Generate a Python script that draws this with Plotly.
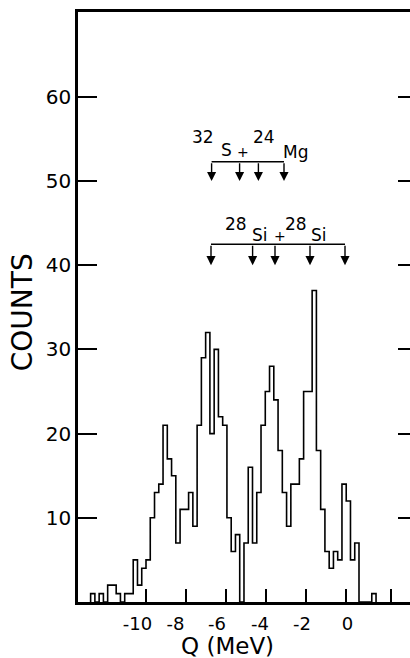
import plotly.graph_objects as go

# ---- data ----
BIN_START = -12.769      # MeV, left edge of first channel
BIN_WIDTH = 0.213        # MeV per channel
counts = [1, 0, 1, 0, 2, 2, 1, 0, 1, 1, 5, 2, 4,
          5, 10, 13, 14, 21, 17, 15, 7, 11, 11, 13, 9, 21, 29, 32, 20, 30,
          22, 21, 10, 6, 8, 0, 7, 16, 7, 13, 21, 25, 28, 24, 18, 13, 9, 14,
          14, 17, 25, 25, 37, 18, 11, 6, 4, 6, 5, 14, 12, 5, 7, 0, 0, 0, 1]

x_tick_marks = [-10, -8, -6, -4, -2, 0, 2.25]
x_tick_label_pos = [-10.43, -8.53, -6.45, -4.3, -2.2, 0.075]
x_tick_labels = ["-10", "-8", "-6", "-4", "-2", "0"]
y_ticks = [10, 20, 30, 40, 50, 60]

mg_arrows = [-6.72, -5.32, -4.38, -3.10]        # 32S + 24Mg
si_arrows = [-6.75, -4.67, -3.55, -1.80, -0.05]  # 28Si + 28Si
mg_bracket, mg_tip = 52.3, 50.0
si_bracket, si_tip = 42.5, 40.0

# ---- build step outline ----
edges = [BIN_START + i * BIN_WIDTH for i in range(len(counts) + 1)]
xs = [edges[0]] + edges
ys = [0] + counts + [0]

FONT = "DejaVu Sans"

fig = go.Figure()
fig.add_trace(go.Scatter(x=xs, y=ys, mode="lines", line_shape="hv",
                         line=dict(color="black", width=1.6),
                         showlegend=False, hoverinfo="skip"))
fig.add_trace(go.Scatter(x=[None], y=[None], yaxis="y2", mode="lines",
                         showlegend=False, hoverinfo="skip"))

annotations = []
shapes = []
for arrows, yb, yt in [(mg_arrows, mg_bracket, mg_tip), (si_arrows, si_bracket, si_tip)]:
    shapes.append(dict(type="line", xref="x", yref="y", x0=arrows[0], x1=arrows[-1],
                       y0=yb, y1=yb, line=dict(color="black", width=1.5)))
    for xv in arrows:
        annotations.append(dict(x=xv, y=yt, ax=xv, ay=yb, xref="x", yref="y",
                                axref="x", ayref="y", text="", showarrow=True,
                                arrowhead=2, arrowsize=1.3, arrowwidth=1.4,
                                arrowcolor="black", standoff=0))

def label(txt, x, y, size=17):
    annotations.append(dict(x=x, y=y, xref="x", yref="y", text=txt, showarrow=False,
                            font=dict(family=FONT, size=size, color="black"),
                            xanchor="center", yanchor="middle"))

# 32S + 24Mg
label("32", -7.15, 55.2)
label("S", -5.975, 53.7)
label("+", -5.175, 53.5, 14)
label("24", -4.125, 55.2)
label("Mg", -2.55, 53.4)
# 28Si + 28Si
label("28", -5.485, 44.9)
label("Si", -4.30, 43.6)
label("+", -3.325, 43.5, 14)
label("28", -2.485, 44.9)
label("Si", -1.365, 43.6)

annotations.append(dict(x=-5.93, y=-0.0746, xref="x", yref="paper", text="Q (MeV)",
                        showarrow=False, font=dict(family=FONT, size=23, color="black"),
                        xanchor="center", yanchor="middle"))
annotations.append(dict(x=-0.169, y=34.4, xref="paper", yref="y", text="COUNTS",
                        textangle=-90, showarrow=False,
                        font=dict(family=FONT, size=28, color="black"),
                        xanchor="center", yanchor="middle"))

fig.update_layout(
    width=410, height=658,
    margin=dict(l=78, r=0, t=12, b=56),
    paper_bgcolor="white", plot_bgcolor="white",
    font=dict(family=FONT, color="black"),
    xaxis=dict(range=[-13.4, 3.2], showline=True, linewidth=2.5, linecolor="black",
               mirror=True, showgrid=False, zeroline=False,
               tickmode="array", tickvals=x_tick_label_pos, ticktext=x_tick_labels,
               ticks="", tickfont=dict(family=FONT, size=18, color="black"),
               ticklabelstandoff=4,
               minor=dict(tickmode="array", tickvals=x_tick_marks, ticks="inside",
                          ticklen=13, tickwidth=1.5, tickcolor="black", showgrid=False)),
    yaxis=dict(range=[0, 70.07], showline=True, linewidth=2.5, linecolor="black",
               showgrid=False, zeroline=False, tickmode="array", tickvals=y_ticks,
               ticks="inside", ticklen=19, tickwidth=1.5, tickcolor="black",
               tickfont=dict(family=FONT, size=20, color="black")),
    yaxis2=dict(range=[0, 70.07], overlaying="y", side="right", showline=False,
                showgrid=False, zeroline=False, tickmode="array", tickvals=y_ticks,
                ticks="inside", ticklen=12, tickwidth=1.5, tickcolor="black",
                showticklabels=False),
    shapes=shapes,
    annotations=annotations,
)

fig.write_html("out.html", config={"displayModeBar": False},
               post_script="document.body.style.margin='0';document.body.style.overflow='hidden';")
